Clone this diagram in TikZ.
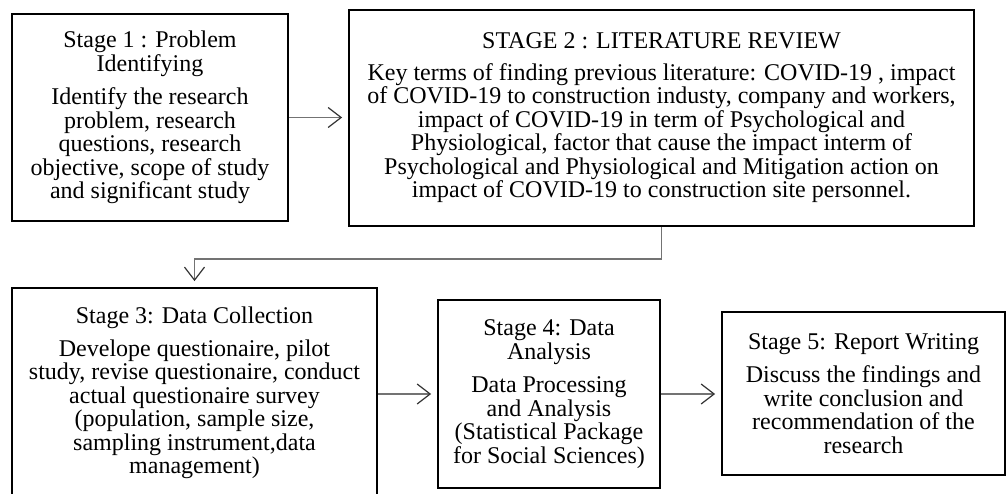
\documentclass[tikz,border=0pt]{standalone}
\usepackage{fontspec}
\setmainfont{Liberation Serif}
\usetikzlibrary{arrows.meta}
\lineskiplimit=-100pt

\tikzset{
    stagebox/.style={draw=black, line width=1.8pt, rectangle, inner sep=0pt,
        align=center, font=\fontsize{24}{23.5}\selectfont},
    flow/.style={draw=black!55, line width=1.4pt, shorten >=6pt,
        -{Straight Barb[length=13pt,width=20pt,line width=1.2pt,black!80]}}
}

\begin{document}
\begin{tikzpicture}[x=1pt,y=-1pt]
        \clip (0,0) rectangle (1006,494);
        \fill[white] (0,0) rectangle (1006,494);
        % stages
        \node[stagebox, minimum width=276, minimum height=207] (s1) at (150,117.5)
            {Stage 1 : Problem\\Identifying\\[10pt]
            Identify the research\\problem, research\\questions, research\\
            objective, scope of study\\and significant study};
        \node[stagebox, minimum width=625, minimum height=216] (s2) at (661.5,118)
            {STAGE 2 : LITERATURE REVIEW\\[8pt]
            Key terms of finding previous literature: COVID-19 , impact\\
            of COVID-19 to construction industy, company and workers,\\
            impact of COVID-19 in term of Psychological and\\
            Physiological, factor that cause the impact interm of\\
            Psychological and Physiological and Mitigation action on\\
            impact of COVID-19 to construction site personnel.};
        \node[stagebox, minimum width=365, minimum height=210] (s3) at (194.5,393)
            {Stage 3: Data Collection\\[9pt]
            Develope questionaire, pilot\\study, revise questionaire, conduct\\
            actual questionaire survey\\(population, sample size,\\
            sampling instrument,data\\management)};
        \node[stagebox, minimum width=222, minimum height=188] (s4) at (549,394)
            {Stage 4: Data\\Analysis\\[10pt]
            Data Processing\\and Analysis\\(Statistical Package\\for Social Sciences)};
        \node[stagebox, minimum width=283, minimum height=163] (s5) at (863.5,393.5)
            {Stage 5: Report Writing\\[10pt]
            Discuss the findings and\\write conclusion and\\
            recommendation of the\\research};
        % arrows
        \draw[flow] (s1.east) -- (s1.east -| s2.west);
        \draw[flow] (s2.south) -- ++(0,32) -| (s3.north);
        \draw[flow] (s4.west -| s3.east) -- (s4.west);
        \draw[flow] (s4.east) -- (s4.east -| s5.west);
    \end{tikzpicture}
\end{document}
